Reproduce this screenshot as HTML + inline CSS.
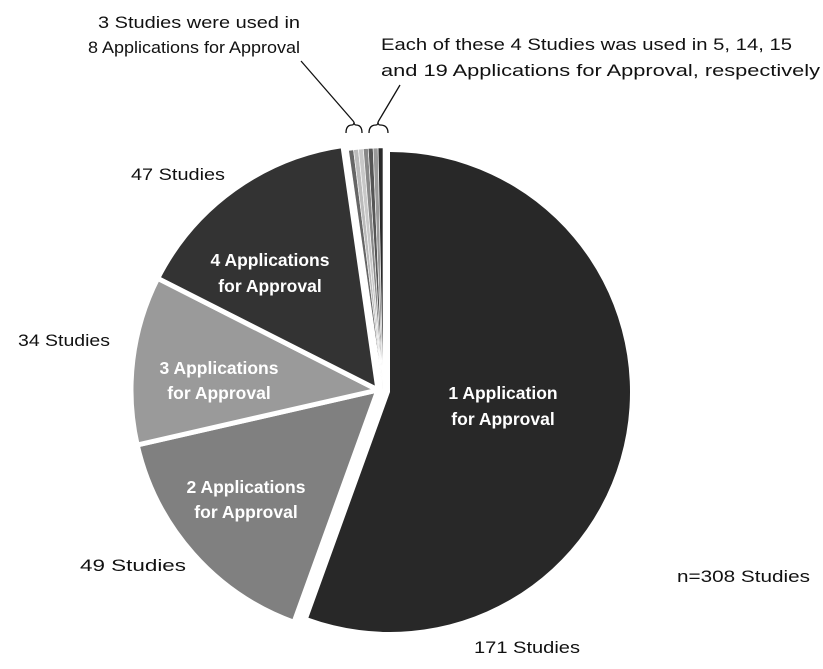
<!DOCTYPE html>
<html><head><meta charset="utf-8"><style>body{margin:0;background:#fff}svg{display:block}text{font-family:"Liberation Sans",sans-serif;font-size:17px;fill:#111}.b{font-weight:bold;fill:#fff;font-size:17.5px}</style></head><body>
<svg width="823" height="669" viewBox="0 0 823 669">
<g stroke="#fff" stroke-width="5" stroke-linejoin="round">
<path d="M378,390 L294.0,622.3 A247,247 0 0 1 137.2,445.0 Z" fill="#808080"/>
<path d="M378,390 L137.2,445.0 A247,247 0 0 1 157.7,278.3 Z" fill="#9a9a9a"/>
<path d="M378,390 L157.7,278.3 A247,247 0 0 1 342.9,145.5 Z" fill="#333333"/>
</g>
<g stroke="#fff" stroke-width="0.6">
<path d="M383,390 L348.6,150.5 A242,242 0 0 1 353.5,149.8 Z" fill="#666"/>
<path d="M383,390 L353.5,149.8 A242,242 0 0 1 358.4,149.3 Z" fill="#bbb"/>
<path d="M383,390 L358.4,149.3 A242,242 0 0 1 363.3,148.8 Z" fill="#c8c8c8"/>
<path d="M383,390 L363.3,148.8 A242,242 0 0 1 368.2,148.5 Z" fill="#888"/>
<path d="M383,390 L368.2,148.5 A242,242 0 0 1 373.1,148.2 Z" fill="#555"/>
<path d="M383,390 L373.1,148.2 A242,242 0 0 1 378.1,148.0 Z" fill="#999"/>
<path d="M383,390 L378.1,148.0 A242,242 0 0 1 383,148 Z" fill="#2a2a2a"/>
</g>
<path d="M390,392 L390,152 A240,240 0 1 1 308.4,617.7 Z" fill="#282828"/>
<g fill="none" stroke="#111" stroke-width="1.3">
<line x1="301" y1="61" x2="354" y2="122"/>
<line x1="400" y1="85" x2="378" y2="122"/>
<path d="M346,133 Q346,125 352,125 Q354,125 354,122 Q354,125 356,125 Q362,125 362,133"/>
<path d="M369,133 Q369,125 376,125 Q378,125 378,122 Q378,125 380,125 Q388,125 388,133"/>
</g>
<text x="300" y="28" text-anchor="end" textLength="202" lengthAdjust="spacingAndGlyphs">3 Studies were used in</text>
<text x="300" y="53" text-anchor="end" textLength="212" lengthAdjust="spacingAndGlyphs">8 Applications for Approval</text>
<text x="381" y="50" textLength="411" lengthAdjust="spacingAndGlyphs">Each of these 4 Studies was used in 5, 14, 15</text>
<text x="381" y="76" textLength="439" lengthAdjust="spacingAndGlyphs">and 19 Applications for Approval, respectively</text>
<text x="131" y="180" textLength="94" lengthAdjust="spacingAndGlyphs">47 Studies</text>
<text x="18" y="346" textLength="92" lengthAdjust="spacingAndGlyphs">34 Studies</text>
<text x="80" y="571" textLength="106" lengthAdjust="spacingAndGlyphs">49 Studies</text>
<text x="474" y="653" textLength="106" lengthAdjust="spacingAndGlyphs">171 Studies</text>
<text x="677" y="582" textLength="133" lengthAdjust="spacingAndGlyphs">n=308 Studies</text>
<g text-anchor="middle">
<text class="b" x="270" y="266">4 Applications</text>
<text class="b" x="270" y="292">for Approval</text>
<text class="b" x="219" y="374">3 Applications</text>
<text class="b" x="219" y="399">for Approval</text>
<text class="b" x="246" y="493">2 Applications</text>
<text class="b" x="246" y="518">for Approval</text>
<text class="b" x="503" y="399">1 Application</text>
<text class="b" x="503" y="425">for Approval</text>
</g>
</svg>
</body></html>
